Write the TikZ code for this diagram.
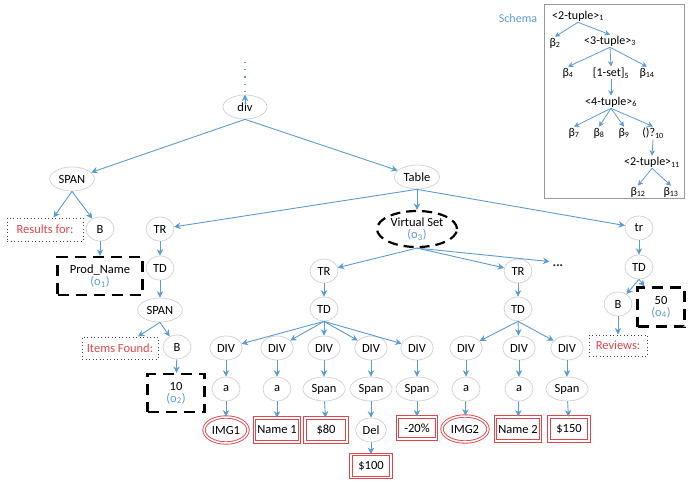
\documentclass[tikz,border=0pt]{standalone}
\usepackage{fontspec}
\setmainfont{Carlito}
\usetikzlibrary{shapes.geometric,arrows.meta}
\definecolor{lb}{HTML}{5B9BD5}
\definecolor{rd}{HTML}{E0474C}
\definecolor{ng}{HTML}{D0D0D0}
\begin{document}
\begin{tikzpicture}[x=1pt,y=-1pt,
  every node/.style={font=\fontsize{12.5}{14}\selectfont},
  nd/.style={ellipse, draw=ng, fill=white, line width=0.7pt, minimum width=28pt, minimum height=24pt, inner xsep=2.5pt, inner ysep=2pt},
  ar/.style={draw=lb, line width=0.9pt, -{Stealth[length=6.5pt,width=6.5pt]}},
  sar/.style={draw=lb, line width=0.8pt, -{Stealth[length=5.5pt,width=5.5pt]}},
  redbox/.style={rectangle, draw=rd, double=white, double distance=1.5pt, line width=0.9pt, inner xsep=3pt, inner ysep=2pt, minimum height=24pt, minimum width=40pt},
  redell/.style={ellipse, draw=rd, double=white, double distance=1.5pt, line width=0.9pt, inner xsep=1pt, inner ysep=2pt, minimum height=26pt, minimum width=44pt},
  dashbox/.style={rectangle, draw=black, line width=2.2pt, dash pattern=on 11pt off 7pt, align=center, inner sep=1pt},
  dotbox/.style={rectangle, draw=black!75, line width=1pt, dash pattern=on 1pt off 2.5pt, text=rd, inner sep=1pt},
  sn/.style={inner sep=1pt, font=\fontsize{12}{14}\selectfont},
  ob/.style={text=lb}]
\useasboundingbox (0,0) rectangle (693,487);

% ---------- schema ----------
\draw[black!40, line width=0.8pt] (544,4) rectangle (684,198);
\node[sn, text=lb] (schema) at (518,18) {Schema};
\node[sn] (s1) at (578,16) {<2-tuple>\textsubscript{1}};
\node[sn] (s2) at (555,43) {β\textsubscript{2}};
\node[sn] (s3) at (610,41) {<3-tuple>\textsubscript{3}};
\node[sn] (s4) at (568,73) {β\textsubscript{4}};
\node[sn] (s5) at (611,73) {[1-set]\textsubscript{5}};
\node[sn] (s14) at (647,73) {β\textsubscript{14}};
\node[sn] (s6) at (611,102) {<4-tuple>\textsubscript{6}};
\node[sn] (s7) at (574,133) {β\textsubscript{7}};
\node[sn] (s8) at (599,133) {β\textsubscript{8}};
\node[sn] (s9) at (624,133) {β\textsubscript{9}};
\node[sn] (s10) at (653,133) {()?\textsubscript{10}};
\node[sn] (s11) at (652,162) {<2-tuple>\textsubscript{11}};
\node[sn] (s12) at (638,192) {β\textsubscript{12}};
\node[sn] (s13) at (671,192) {β\textsubscript{13}};
\draw[sar] (s1.south) -- (s2.north);
\draw[sar] (s1.south) -- (s3.north);
\draw[sar] (s3.south) -- (s4.north);
\draw[sar] (s3.south) -- (s5.north);
\draw[sar] (s3.south) -- (s14.north);
\draw[sar] (s5.south) -- (s6.north);
\draw[sar] (s6.south) -- (s7.north);
\draw[sar] (s6.south) -- (s8.north);
\draw[sar] (s6.south) -- (s9.north);
\draw[sar] (s6.south) -- (s10.north);
\draw[sar] (s10.south) -- (s11.north);
\draw[sar] (s11.south) -- (s12.north);
\draw[sar] (s11.south) -- (s13.north);

% ---------- main tree ----------
\coordinate (top) at (245,62);
\node[nd, minimum width=44pt] (div) at (245,107) {div};
\node[nd] (span1) at (72,179) {SPAN};
\node[dotbox, minimum width=76pt, minimum height=23pt] (res) at (45,229.5) {Results for:};
\node[nd] (b1) at (100,229) {B};
\node[dashbox, minimum width=85pt, minimum height=38pt] (prod) at (100,276) {Prod\_Name\\[-2pt]{\color{lb}(o\textsubscript{1})}};
\node[nd] (tb) at (417,177) {Table};
\node[nd, draw=black, line width=2.2pt, dash pattern=on 10pt off 6pt, minimum width=80pt, minimum height=36pt, align=center, inner sep=0pt] (vs) at (417,229) {Virtual Set\\[-2pt]{\color{lb}(o\textsubscript{3})}};
\node[nd] (tr1) at (160,229) {TR};
\node[nd] (td1) at (160,268) {TD};
\node[nd] (span2) at (160,310) {SPAN};
\node[dotbox, minimum width=76pt, minimum height=22pt] (items) at (120,348) {Items Found:};
\node[nd] (b2) at (177,347) {B};
\node[dashbox, minimum width=57pt, minimum height=38pt] (ten) at (176,393) {10\\[-2pt]{\color{lb}(o\textsubscript{2})}};

\node[nd] (tr2) at (324,271) {TR};
\node[nd] (td2) at (324,309) {TD};
\node[nd] (d1) at (226,348) {DIV};
\node[nd] (d2) at (277,348) {DIV};
\node[nd] (d3) at (324,348) {DIV};
\node[nd] (d4) at (371,348) {DIV};
\node[nd] (d5) at (417,348) {DIV};
\node[nd] (a1) at (226,389) {a};
\node[nd] (a2) at (277,389) {a};
\node[nd] (sp1) at (324,389) {Span};
\node[nd] (sp2) at (371,389) {Span};
\node[nd] (sp3) at (417,389) {Span};
\node[redell] (img1) at (226,430) {IMG1};
\node[redbox] (nm1) at (277,430) {Name 1};
\node[redbox, minimum width=42pt] (p80) at (326,430) {\$80};
\node[nd] (del) at (371,430) {Del};
\node[redbox, minimum width=39pt, minimum height=22pt] (m20) at (417,428) {-20\%};
\node[redbox, minimum height=23pt] (p100) at (371,466) {\$100};

\node[nd] (tr3) at (518,271) {TR};
\node[nd] (td3) at (518,309) {TD};
\node (dots) at (558,266) {\textbf{...}};
\node[nd] (d6) at (466,348) {DIV};
\node[nd] (d7) at (519,348) {DIV};
\node[nd] (d8) at (567,348) {DIV};
\node[nd] (a3) at (466,389) {a};
\node[nd] (a4) at (519,389) {a};
\node[nd] (sp4) at (567,389) {Span};
\node[redell, minimum width=46pt] (img2) at (465,429) {IMG2};
\node[redbox] (nm2) at (518,429) {Name 2};
\node[redbox] (p150) at (569,429) {\$150};

\node[nd] (tr4) at (639,228) {tr};
\node[nd] (td4) at (639,267) {TD};
\node[nd] (b3) at (618,304) {B};
\node[dashbox, minimum width=47pt, minimum height=39pt] (fifty) at (661,307) {50\\[-2pt]{\color{lb}(o\textsubscript{4})}};
\node[dotbox, minimum width=58pt, minimum height=21pt] (rev) at (618,345.5) {Reviews:};

% ---------- connectors ----------
\draw[lb, line width=1.2pt, dash pattern=on 1.2pt off 6pt] (top) -- ([yshift=-8pt]div.north);
\draw[ar] ([yshift=-10pt]div.north) -- (div.north);
\draw[ar] (div.south) -- (span1);
\draw[ar] (div.south) -- (tb);
\draw[ar] (span1.south) -- (res);
\draw[ar] (span1.south) -- (b1);
\draw[ar] (b1) -- (prod);
\draw[ar] (tb.south) -- (tr1);
\draw[ar] (tb) -- (vs);
\draw[ar] (tb.south) -- (tr4);
\draw[ar] (tr1) -- (td1);
\draw[ar] (td1) -- (span2);
\draw[ar] (span2.south) -- (items);
\draw[ar] (span2.south) -- (b2);
\draw[ar] (b2) -- (ten);
\draw[ar] (vs.south) -- (tr2);
\draw[ar] (vs.south) -- (tr3);
\draw[ar] (vs.south) -- (dots.north west);
\draw[ar] (tr2) -- (td2);
\foreach \d in {d1,d2,d3,d4,d5} \draw[ar] (td2.south) -- (\d);
\draw[ar] (d1) -- (a1); \draw[ar] (a1) -- (img1);
\draw[ar] (d2) -- (a2); \draw[ar] (a2) -- (nm1);
\draw[ar] (d3) -- (sp1); \draw[ar] (sp1) -- (p80);
\draw[ar] (d4) -- (sp2); \draw[ar] (sp2) -- (del); \draw[ar] (del) -- (p100);
\draw[ar] (d5) -- (sp3); \draw[ar] (sp3) -- (m20);
\draw[ar] (tr3) -- (td3);
\foreach \d in {d6,d7,d8} \draw[ar] (td3.south) -- (\d);
\draw[ar] (d6) -- (a3); \draw[ar] (a3) -- (img2);
\draw[ar] (d7) -- (a4); \draw[ar] (a4) -- (nm2);
\draw[ar] (d8) -- (sp4); \draw[ar] (sp4) -- (p150);
\draw[ar] (tr4) -- (td4);
\draw[ar] (td4.south) -- (b3);
\draw[ar] (td4.south) -- (fifty);
\draw[ar] (b3) -- (rev);
\end{tikzpicture}
\end{document}
